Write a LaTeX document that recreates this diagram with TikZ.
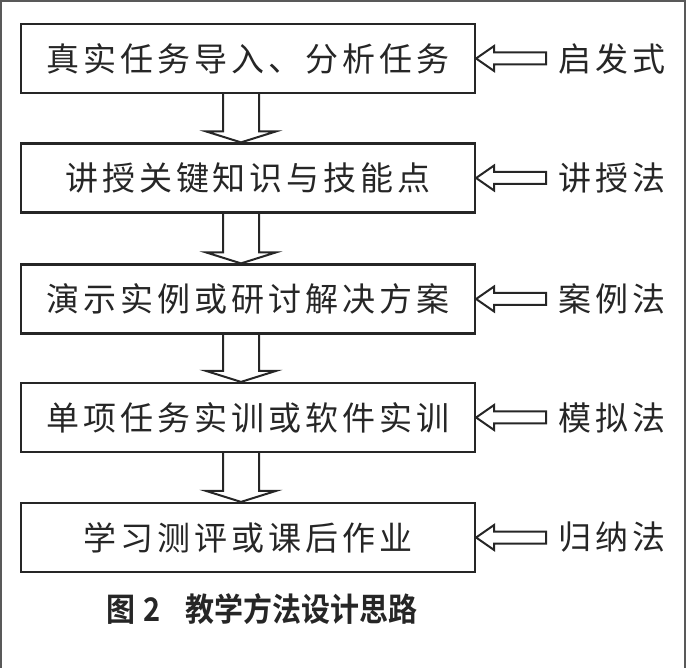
\documentclass[tikz,border=0pt]{standalone}
\usepackage{fontspec}
\usetikzlibrary{calc}
\newfontfamily\cjk[LetterSpace=12]{Noto Sans CJK SC}
\newfontfamily\cjkcap{Noto Sans CJK SC Bold}
\begin{document}
\begin{tikzpicture}[x=1pt,y=-1pt,
  stepbox/.style={draw=black!85,line width=2.2pt,minimum width=454pt,minimum height=69pt,inner sep=0pt,
     font=\cjk\fontsize{33}{40}\selectfont,text=black!85},
  method/.style={inner sep=0pt,font=\cjk\fontsize{33}{40}\selectfont,text=black!85},
  hollow/.style={draw=black!85,line width=2pt,line join=miter},
  frame/.style={draw=black!65,line width=2pt}]
\useasboundingbox (0,0) rectangle (686,668);
\draw[frame] (1,668) -- (1,1) -- (685,1) -- (685,668);
% boxes
\node[stepbox] (b1) at (248,58.5) {真实任务导入、分析任务};
\node[stepbox] (b2) at (248,178) {讲授关键知识与技能点};
\node[stepbox] (b3) at (248,299) {演示实例或研讨解决方案};
\node[stepbox] (b4) at (248,417.5) {单项任务实训或软件实训};
\node[stepbox] (b5) at (248,537.5) {学习测评或课后作业};
% method labels
\node[method] (m1) at (612,58.5) {启发式};
\node[method] (m2) at (612,178) {讲授法};
\node[method] (m3) at (612,299) {案例法};
\node[method] (m4) at (612,417.5) {模拟法};
\node[method] (m5) at (612,537.5) {归纳法};
% down arrows
\foreach \a/\b in {b1/b2,b2/b3,b3/b4,b4/b5}{
  \path (\a.south) ++(-7,0) coordinate (s);
  \path (\b.north) ++(-7,0) coordinate (e);
  \draw[hollow] ($(s)+(-18,0)$) -- ($(e)+(-18,-11)$) -- ($(e)+(-35,-11)$) -- (e)
     -- ($(e)+(35,-11)$) -- ($(e)+(18,-11)$) -- ($(s)+(18,0)$);
}
% side arrows
\foreach \b/\m in {b1/m1,b2/m2,b3/m3,b4/m4,b5/m5}{
  \path (\b.east) coordinate (t);
  \draw[hollow] (t) -- ($(t)+(18,-12.5)$) -- ($(t)+(18,-6)$) -- ($(t)+(70,-6)$)
     -- ($(t)+(70,6)$) -- ($(t)+(18,6)$) -- ($(t)+(18,12.5)$) -- cycle;
}
% caption
\node[inner sep=0pt,font=\cjkcap\fontsize{29}{36}\selectfont,text=black!85,yscale=1.12] (cap) at (262,609) {图\hspace{8pt}2\hspace{25pt}教学方法设计思路};
\end{tikzpicture}
\end{document}
